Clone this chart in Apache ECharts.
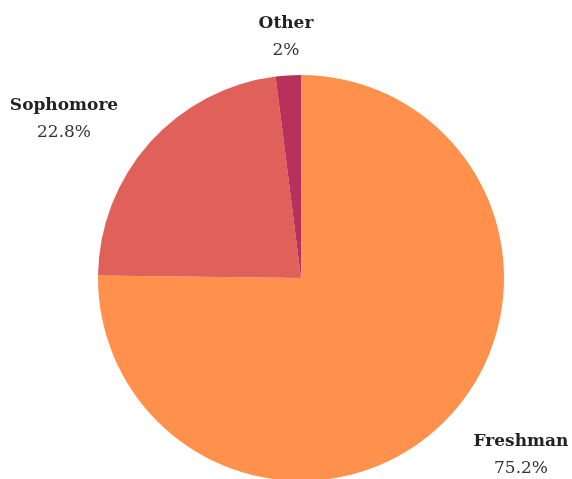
<!DOCTYPE html>
<html>
<head>
<meta charset="utf-8">
<script src="https://cdn.jsdelivr.net/npm/echarts@6/dist/echarts.min.js"></script>
<style>
  html, body { margin: 0; padding: 0; background: #fff; }
  #chart { width: 572px; height: 479px; }
</style>
</head>
<body>
<div id="chart"></div>
<script>
const classes = ['Freshman', 'Sophomore', 'Other']
const shares = [75.2, 22.8, 2]
const colors = ['#FF914D', '#E0605A', '#B8305C']

// where each label sits (center of the text block)
const labelSpots = [[521, 455], [64, 119], [286, 37]]

const chart = echarts.init(document.getElementById('chart'))

chart.setOption({
  animation: false,
  series: [
    {
      type: 'pie',
      center: [301, 278],
      radius: 203,
      startAngle: 90,
      clockwise: true,
      data: classes.map((name, i) => ({
        name: name,
        value: shares[i],
        itemStyle: { color: colors[i] }
      })),
      label: {
        show: true,
        position: 'outside',
        overflow: 'none',
        formatter: '{n|{b}}\n{v|{c}%}',
        align: 'center',
        rich: {
          n: {
            fontFamily: 'DejaVu Serif',
            fontWeight: 'bold',
            fontSize: 17,
            color: '#222',
            lineHeight: 27,
            align: 'center'
          },
          v: {
            fontFamily: 'DejaVu Serif',
            fontSize: 17,
            color: '#333',
            lineHeight: 27,
            align: 'center'
          }
        }
      },
      labelLine: { show: false },
      labelLayout: function (params) {
        const p = labelSpots[params.dataIndex]
        return {
          x: p[0],
          y: p[1],
          align: 'center',
          verticalAlign: 'middle'
        }
      }
    }
  ]
})
</script>
</body>
</html>
